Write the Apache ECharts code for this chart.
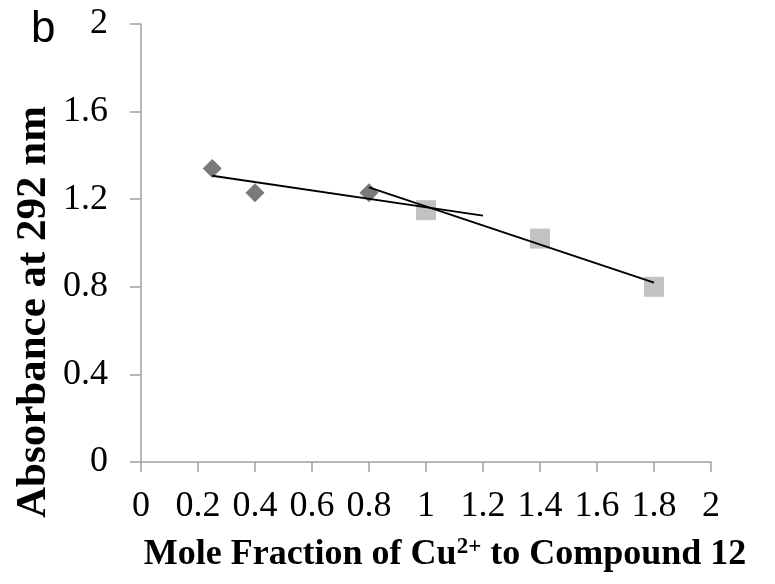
<!DOCTYPE html>
<html>
<head>
<meta charset="utf-8">
<script src="https://cdn.jsdelivr.net/npm/echarts@6/dist/echarts.min.js"></script>
<style>html,body{margin:0;padding:0;background:#fff}#chart{width:775px;height:584px}</style>
</head>
<body>
<div id="chart"></div>
<script>
// Measured points: diamonds (lower Cu ratio) and squares (higher Cu ratio)
const diamondX = [0.25, 0.4, 0.8];
const diamondY = [1.34, 1.23, 1.23];
const squareX = [1.0, 1.4, 1.8];
const squareY = [1.15, 1.02, 0.80];
// Linear trend segments (start and end points)
const trend1X = [0.25, 1.2];
const trend1Y = [1.307, 1.125];
const trend2X = [0.8, 1.8];
const trend2Y = [1.254, 0.819];

const zip = (xs, ys) => xs.map((x, i) => [x, ys[i]]);
const serif = '"Liberation Serif", "Times New Roman", serif';
const axisGray = '#a0a0a0';
const fmt = v => String(Math.round(v * 10) / 10);

const chart = echarts.init(document.getElementById('chart'), null, {renderer: 'canvas'});
chart.setOption({
  animation: false,
  backgroundColor: '#fff',
  grid: {left: 141, right: 64, top: 24, bottom: 122, containLabel: false},
  xAxis: {
    type: 'value', min: 0, max: 2, interval: 0.2,
    axisLine: {show: true, onZero: false, lineStyle: {color: axisGray, width: 1.5}},
    axisTick: {show: true, length: 10, lineStyle: {color: axisGray, width: 1.5}},
    splitLine: {show: false},
    axisLabel: {fontFamily: serif, fontSize: 36, color: '#000', margin: 27, formatter: fmt}
  },
  yAxis: {
    type: 'value', min: 0, max: 2, interval: 0.4,
    axisLine: {show: true, lineStyle: {color: axisGray, width: 1.5}},
    axisTick: {show: true, length: 11, lineStyle: {color: axisGray, width: 1.5}},
    splitLine: {show: false},
    axisLabel: {fontFamily: serif, fontSize: 36, color: '#000', margin: 33, formatter: fmt}
  },
  graphic: [
    {type: 'text', left: 31, top: 8,
      style: {text: 'b', font: '44px "Liberation Sans", Arial, sans-serif', fill: '#000'}},
    {type: 'text', x: 34, y: 312, rotation: Math.PI / 2,
      style: {text: 'Absorbance at 292 nm', font: 'bold 43px ' + serif, fill: '#000',
        align: 'center', verticalAlign: 'middle'}},
    {type: 'text', x: 445, y: 555,
      style: {text: 'Mole Fraction of Cu{sup|2+} to Compound 12', font: 'bold 36px ' + serif,
        fill: '#000', align: 'center', verticalAlign: 'middle',
        rich: {sup: {font: 'bold 23px ' + serif, fill: '#000', padding: [0, 0, 16, 0]}}}}
  ],
  series: [
    {type: 'line', data: zip(trend1X, trend1Y), symbol: 'none', z: 3,
      lineStyle: {color: '#000', width: 2}},
    {type: 'line', data: zip(trend2X, trend2Y), symbol: 'none', z: 3,
      lineStyle: {color: '#000', width: 2}},
    {type: 'scatter', data: zip(diamondX, diamondY), symbol: 'diamond', symbolSize: [19, 19], z: 2,
      itemStyle: {color: '#595959'}},
    {type: 'scatter', data: zip(squareX, squareY), symbol: 'rect', symbolSize: 20, z: 2,
      itemStyle: {color: '#b3b3b3'}}
  ]
});
</script>
</body>
</html>
